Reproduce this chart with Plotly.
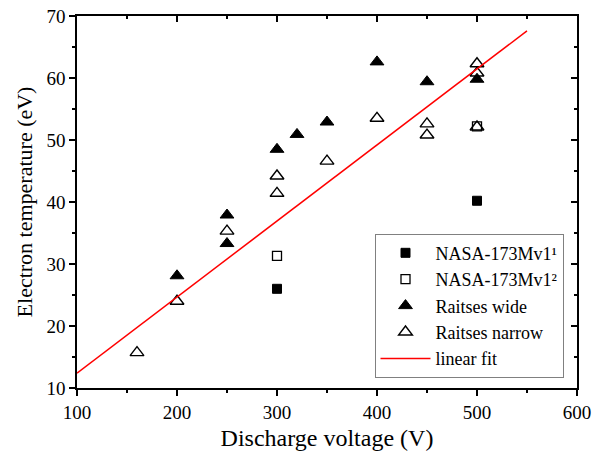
import plotly.graph_objects as go

nasa1_x = [300, 500]
nasa1_y = [26.0, 40.2]
nasa2_x = [300, 500]
nasa2_y = [31.3, 52.2]
wide_x = [200, 250, 250, 300, 320, 350, 400, 450, 500]
wide_y = [28.1, 37.9, 33.3, 48.5, 50.9, 52.9, 62.6, 59.4, 59.8]
narrow_x = [160, 200, 250, 300, 300, 350, 400, 450, 450, 500, 500, 500]
narrow_y = [15.7, 24.0, 35.3, 44.2, 41.4, 46.6, 53.5, 52.6, 50.8, 62.3, 60.8, 52.1]
fit_x = [100, 550]
fit_y = [12.4, 67.6]

FONT = "Liberation Serif, Times New Roman, serif"
fig = go.Figure()
fig.add_trace(go.Scatter(x=nasa1_x, y=nasa1_y, mode="markers", name="NASA-173Mv1¹",
                         marker=dict(symbol="square", size=9, color="black", line=dict(color="black", width=1))))
fig.add_trace(go.Scatter(x=nasa2_x, y=nasa2_y, mode="markers", name="NASA-173Mv1²",
                         marker=dict(symbol="square-open", size=9, color="black", line=dict(width=1.3))))
fig.add_trace(go.Scatter(x=wide_x, y=wide_y, mode="markers", name="Raitses wide",
                         marker=dict(symbol="triangle-up", size=12, color="black", line=dict(color="black", width=1))))
fig.add_trace(go.Scatter(x=narrow_x, y=narrow_y, mode="markers", name="Raitses narrow",
                         marker=dict(symbol="triangle-up-open", size=12, color="black", line=dict(width=1.4))))
fig.add_trace(go.Scatter(x=fit_x, y=fit_y, mode="lines", name="linear fit",
                         line=dict(color="red", width=1.5)))

axis_common = dict(showgrid=False, zeroline=False, showline=True, linecolor="black", linewidth=1.5,
                   ticklen=6, tickwidth=1.5, tickcolor="black", automargin=False,
                   tickfont=dict(family=FONT, size=19, color="black"))
fig.update_layout(
    width=592, height=464,
    margin=dict(l=77, r=15, t=16, b=76, autoexpand=False),
    paper_bgcolor="white", plot_bgcolor="white",
    font=dict(family=FONT, color="black"),
    xaxis=dict(range=[100, 600], dtick=100, ticks="outside",
               minor=dict(dtick=50, ticks="outside", ticklen=3, tickwidth=1.5, tickcolor="black"),
               title=dict(text="Discharge voltage (V)", font=dict(family=FONT, size=24), standoff=8),
               **axis_common),
    yaxis=dict(range=[10, 70], dtick=10, ticks="outside",
               minor=dict(dtick=5, ticks="outside", ticklen=3, tickwidth=1.5, tickcolor="black"),
               title=dict(text="Electron temperature (eV)", font=dict(family=FONT, size=22), standoff=8),
               **axis_common),
    xaxis2=dict(range=[100, 600], dtick=100, ticks="inside", overlaying="x", side="top",
                showticklabels=False,
                minor=dict(dtick=50, ticks="inside", ticklen=3, tickwidth=1.5, tickcolor="black"),
                **axis_common),
    yaxis2=dict(range=[10, 70], dtick=10, ticks="inside", overlaying="y", side="right",
                showticklabels=False,
                minor=dict(dtick=5, ticks="inside", ticklen=3, tickwidth=1.5, tickcolor="black"),
                **axis_common),
    legend=dict(x=0.595, y=0.415, xanchor="left", yanchor="top",
                bordercolor="gray", borderwidth=1, bgcolor="white",
                font=dict(family=FONT, size=18, color="black"),
                itemwidth=50, tracegroupgap=0),
    showlegend=True,
)
fig.add_trace(go.Scatter(x=[None], y=[None], xaxis="x2", yaxis="y2", showlegend=False, hoverinfo="skip"))
fig.write_html("out.html")
